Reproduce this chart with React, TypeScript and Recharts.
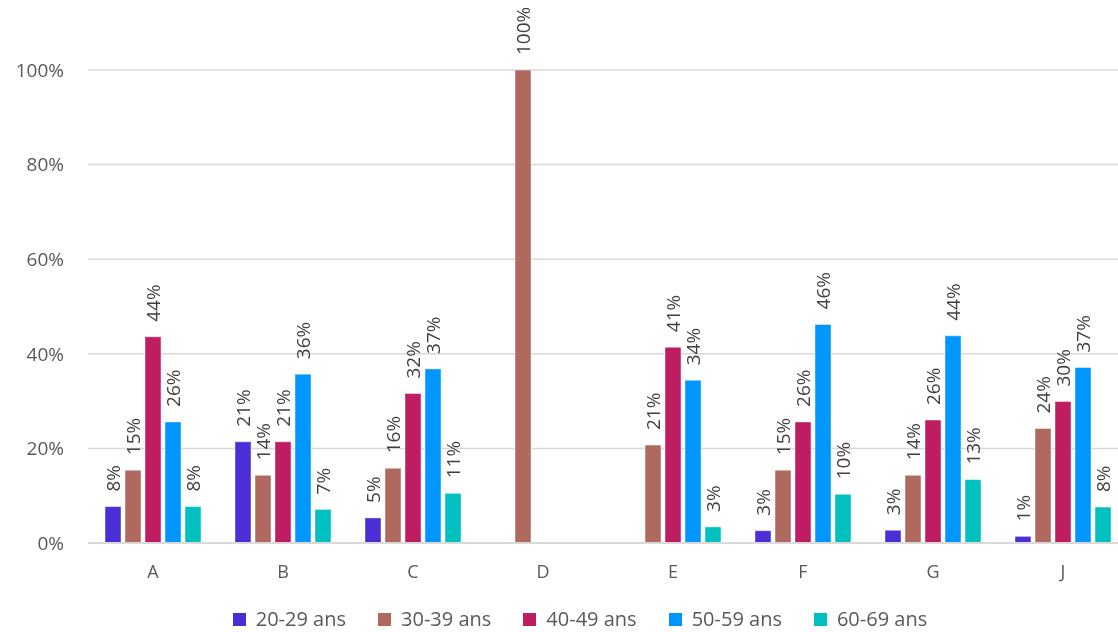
import { Bar, BarChart, CartesianGrid, LabelList, Legend, XAxis, YAxis } from "recharts";

const categories = ["A", "B", "C", "D", "E", "F", "G", "J"];
const seriesNames = ["20-29 ans", "30-39 ans", "40-49 ans", "50-59 ans", "60-69 ans"];
const colors = ["#4B2ED6", "#B0695E", "#BF1D62", "#0096FF", "#00C0C0"];

const ans20 = [0.077, 0.214, 0.053, 0, 0, 0.026, 0.027, 0.014];
const ans30 = [0.154, 0.143, 0.158, 1, 0.207, 0.154, 0.143, 0.242];
const ans40 = [0.436, 0.214, 0.316, 0, 0.414, 0.256, 0.26, 0.299];
const ans50 = [0.256, 0.357, 0.368, 0, 0.344, 0.462, 0.438, 0.371];
const ans60 = [0.077, 0.071, 0.105, 0, 0.034, 0.103, 0.134, 0.076];

const yTicks = [0, 0.2, 0.4, 0.6, 0.8, 1];

const keys = ["s20", "s30", "s40", "s50", "s60"];
const data = categories.map((name, i) => ({
  name,
  s20: ans20[i],
  s30: ans30[i],
  s40: ans40[i],
  s50: ans50[i],
  s60: ans60[i],
}));

const font = "'Open Sans', 'Segoe UI', sans-serif";

function renderLabel(props: any) {
  const { x, y, width, value } = props;
  if (!value) return null;
  const cx = Number(x) + Number(width) / 2;
  const ty = Number(y) - 15;
  return (
    <text
      x={cx}
      y={ty}
      transform={`rotate(-90, ${cx}, ${ty})`}
      textAnchor="start"
      dominantBaseline="central"
      fill="#404040"
      fontSize={19}
      fontFamily={font}
    >
      {`${Math.round(value * 100)}%`}
    </text>
  );
}

function LegendBox() {
  return (
    <div style={{ display: "flex", justifyContent: "center", gap: 32, paddingTop: 6, paddingLeft: 24, fontFamily: font, fontSize: 20, lineHeight: "22px", color: "#595959" }}>
      {seriesNames.map((s, i) => (
        <div key={s} style={{ display: "flex", alignItems: "center" }}>
          <span style={{ width: 13, height: 13, background: colors[i], marginRight: 10, display: "inline-block" }} />
          <span>{s}</span>
        </div>
      ))}
    </div>
  );
}

export default function App() {
  return (
    <div style={{ position: "fixed", top: 8, left: 8, width: 1120, height: 624 }}>
      <BarChart
        width={1120}
        height={624}
        data={data}
        margin={{ top: 62, right: 0, bottom: 0, left: 0 }}
        barCategoryGap={17}
        barGap={4}
      >
        <CartesianGrid vertical={false} stroke="#d9d9d9" strokeWidth={1.5} />
        <XAxis
          dataKey="name"
          height={59}
          tickLine={false}
          axisLine={{ stroke: "#d9d9d9", strokeWidth: 2 }}
          tickMargin={16}
          tick={{ fill: "#595959", fontSize: 18, fontFamily: font }}
        />
        <YAxis
          width={80}
          domain={[0, 1]}
          ticks={yTicks}
          axisLine={false}
          tickLine={false}
          tickMargin={18}
          tickFormatter={(v: number) => `${Math.round(v * 100)}%`}
          tick={{ fill: "#595959", fontSize: 19, fontFamily: font }}
        />
        <Legend verticalAlign="bottom" height={30} content={<LegendBox />} />
        {keys.map((k, i) => (
          <Bar
            key={k}
            dataKey={k}
            name={seriesNames[i]}
            fill={colors[i]}
            stroke="rgba(255,255,255,0.45)"
            strokeWidth={1}
            barSize={16}
            isAnimationActive={false}
          >
            <LabelList dataKey={k} content={renderLabel} />
          </Bar>
        ))}
      </BarChart>
    </div>
  );
}
